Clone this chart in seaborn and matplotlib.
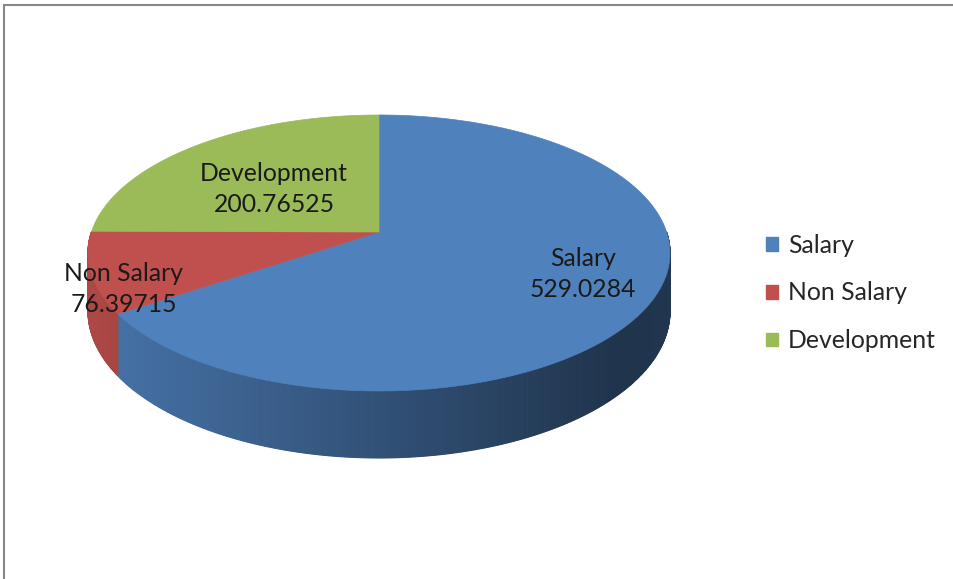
import numpy as np
import matplotlib
matplotlib.use("Agg")
import matplotlib.pyplot as plt
from matplotlib.patches import Polygon, Patch
from matplotlib.lines import Line2D
import seaborn as sns

# ---- data ----
categories = ["Salary", "Non Salary", "Development"]
values = [529.0284, 76.39715, 200.76525]
value_labels = ["529.0284", "76.39715", "200.76525"]
colors = ["#4F81BD", "#C0504D", "#9BBB59"]

# ---- layout (pixel space) ----
W, H = 954, 579
CX, CY = 379, 232          # projected pie centre
A, B = 287.6, 134.8        # ellipse radii
P = 0.152                  # perspective factor
D = 56.8                   # side depth
label_pos = [(583, 274), (124, 289), (274, 189)]
FS = 17.8

sns.set_theme(style="white")
plt.rcParams['font.family'] = ['Lato', 'DejaVu Sans']

fig = plt.figure(figsize=(W / 100, H / 100), dpi=100)
ax = fig.add_axes([0, 0, 1, 1])
ax.set_xlim(0, W)
ax.set_ylim(H, 0)
ax.axis('off')


def proj(t_deg):
    t = np.radians(t_deg)
    u, v = np.cos(t), np.sin(t)
    s = 1.0 / (1.0 - P * v)
    return CX + A * u * s, CY + B * v * s, D * s


def shade(c, f):
    r, g, b = matplotlib.colors.to_rgb(c)
    return (r * f, g * f, b * f)


fractions = np.array(values) / np.sum(values)
starts = -90 + 360 * np.concatenate([[0], np.cumsum(fractions)[:-1]])
ends = starts + 360 * fractions

# side walls (front half: 0..180 deg)
for s0, e0, col in zip(starts, ends, colors):
    for k in (-1, 0, 1):
        a0 = max(s0 + 360 * k, 0)
        a1 = min(e0 + 360 * k, 180)
        if a1 <= a0:
            continue
        n = max(int((a1 - a0) * 3), 2)
        ts = np.linspace(a0, a1, n + 1)
        for t1, t2 in zip(ts[:-1], ts[1:]):
            x1, y1, d1 = proj(t1)
            x2, y2, d2 = proj(t2)
            xm = 0.5 * (x1 + x2)
            f = np.interp(xm, [88, 620, 680], [0.9, 0.4, 0.42])
            c = shade(col, f)
            ax.add_patch(Polygon([(x1, y1), (x2, y2), (x2, y2 + d2), (x1, y1 + d1)],
                                 closed=True, facecolor=c, edgecolor=c, lw=0.8))

# top faces
for s0, e0, col in zip(starts, ends, colors):
    ts = np.linspace(s0, e0, 200)
    pts = [(CX, CY)] + [proj(t)[:2] for t in ts]
    ax.add_patch(Polygon(pts, closed=True, facecolor=col, edgecolor=col, lw=0.5))

# data labels
for (lx, ly), cat, vl in zip(label_pos, categories, value_labels):
    ax.text(lx, ly, f"{cat}\n{vl}", ha="center", va="center", fontsize=FS,
            color="#1a1a1a", linespacing=1.45)

# legend
handles = [Patch(facecolor=c, edgecolor=c) for c in colors]
ax.legend(handles, categories, loc="center left",
          bbox_to_anchor=(766 / W, 1 - 293 / H), frameon=False,
          fontsize=FS, handlelength=0.48, handleheight=0.48,
          handletextpad=0.42, labelspacing=1.0, borderpad=0, borderaxespad=0)

# outer border (top and left)
ax.add_line(Line2D([4, W], [5, 5], color="#888888", lw=1.5))
ax.add_line(Line2D([4, 4], [5, H], color="#888888", lw=1.5))

fig.savefig("out.png", dpi=100)
